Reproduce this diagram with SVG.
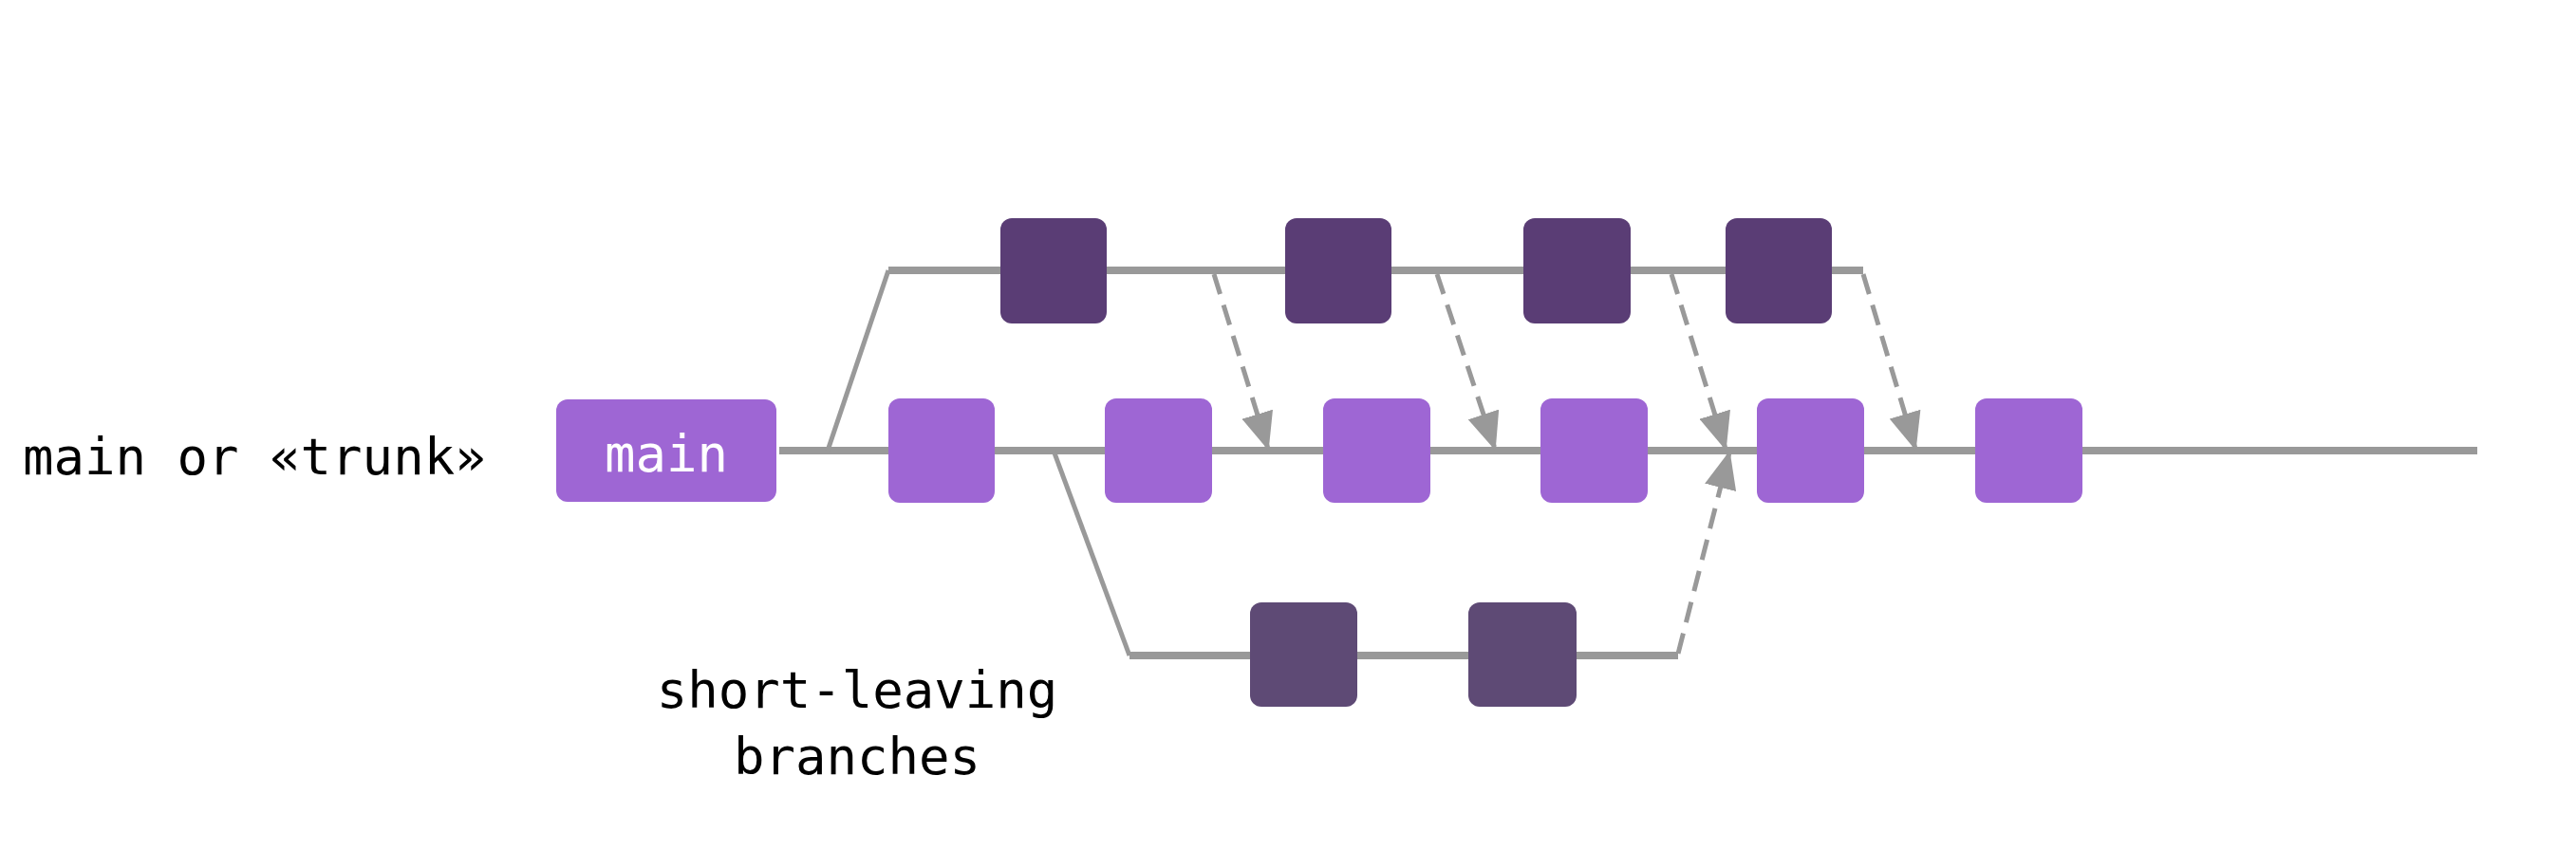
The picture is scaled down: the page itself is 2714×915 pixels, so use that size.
<svg xmlns="http://www.w3.org/2000/svg" width="2714" height="915" viewBox="0 0 2714 915">
<style>
.t{font-family:"DejaVu Sans Mono","Liberation Mono",monospace;font-size:54px;fill:#000}
.ln{stroke:#999;stroke-width:8;fill:none}
.dg{stroke:#999;stroke-width:5;fill:none}
.da{stroke:#999;stroke-width:5;fill:none;stroke-dasharray:22,12;marker-end:url(#ah)}
.lp{fill:#9E66D4}
.dp{fill:#5A3D75}
.bp{fill:#5E4A75}
</style>
<defs>
<marker id="ah" markerUnits="userSpaceOnUse" markerWidth="40" markerHeight="34" refX="38" refY="17" orient="auto">
<path d="M0,0 L40,17 L0,34 Z" fill="#999"/>
</marker>
</defs>
<g id="connectors">
<line class="ln" x1="821" y1="475" x2="2610" y2="475"/>
<polyline class="dg" points="872,475 936,285"/>
<line class="ln" x1="936" y1="285" x2="1963" y2="285"/>
<polyline class="dg" points="1110,475 1190,691"/>
<line class="ln" x1="1190" y1="691" x2="1768" y2="691"/>
<line class="da" x1="1279" y1="289" x2="1336" y2="473"/>
<line class="da" x1="1514" y1="289" x2="1575" y2="473"/>
<line class="da" x1="1761" y1="289" x2="1818" y2="473"/>
<line class="da" x1="1963" y1="289" x2="2018" y2="473"/>
<line class="da" x1="1768" y1="689" x2="1822" y2="477"/>
</g>
<g id="label-trunk"><text class="t" x="24" y="500">main or «trunk»</text></g>
<g id="label-branches"><text class="t" x="903" y="746" text-anchor="middle">short-leaving</text><text class="t" x="903" y="816" text-anchor="middle">branches</text></g>
<g id="main"><rect class="lp" x="586" y="421" width="232" height="108" rx="12"/><text class="t" x="702" y="497" text-anchor="middle" style="fill:#fff">main</text></g>
<g id="m1"><rect class="lp" x="936" y="420" width="112" height="110" rx="12"/></g>
<g id="m2"><rect class="lp" x="1164" y="420" width="113" height="110" rx="12"/></g>
<g id="m3"><rect class="lp" x="1394" y="420" width="113" height="110" rx="12"/></g>
<g id="m4"><rect class="lp" x="1623" y="420" width="113" height="110" rx="12"/></g>
<g id="m5"><rect class="lp" x="1851" y="420" width="113" height="110" rx="12"/></g>
<g id="m6"><rect class="lp" x="2081" y="420" width="113" height="110" rx="12"/></g>
<g id="t1"><rect class="dp" x="1054" y="230" width="112" height="111" rx="12"/></g>
<g id="t2"><rect class="dp" x="1354" y="230" width="112" height="111" rx="12"/></g>
<g id="t3"><rect class="dp" x="1605" y="230" width="113" height="111" rx="12"/></g>
<g id="t4"><rect class="dp" x="1818" y="230" width="112" height="111" rx="12"/></g>
<g id="b1"><rect class="bp" x="1317" y="635" width="113" height="110" rx="12"/></g>
<g id="b2"><rect class="bp" x="1547" y="635" width="114" height="110" rx="12"/></g>
</svg>
